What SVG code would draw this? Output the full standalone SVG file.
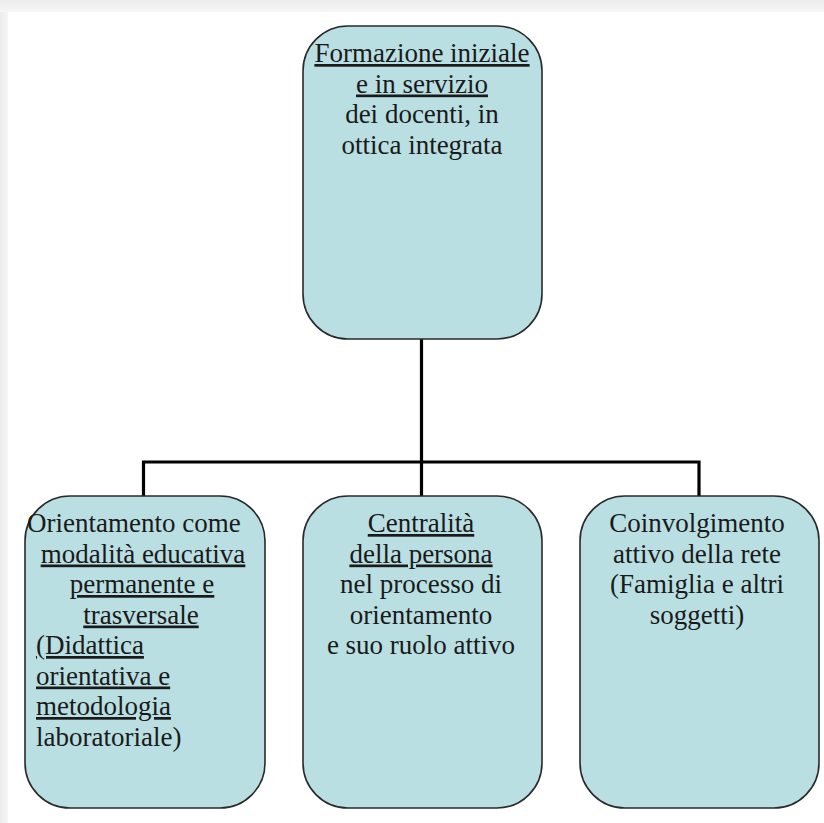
<svg xmlns="http://www.w3.org/2000/svg" width="824" height="823" viewBox="0 0 824 823">
<defs>
<linearGradient id="topShade" x1="0" y1="0" x2="0" y2="1">
<stop offset="0" stop-color="#ececec"/>
<stop offset="1" stop-color="#f6f6f6"/>
</linearGradient>
<linearGradient id="leftShade" x1="0" y1="0" x2="1" y2="0">
<stop offset="0" stop-color="#ececec"/>
<stop offset="1" stop-color="#f6f6f6"/>
</linearGradient>
</defs>
<style>
.box{fill:#b9dfe2;stroke:#2a2a2a;stroke-width:1.6}
.t{font-family:"Liberation Serif","Times New Roman",serif;font-size:27px;fill:#1a1a1a}
.c{text-anchor:middle}
.u{text-decoration:underline}
.con{stroke:#000;stroke-width:3.2;fill:none}
</style>
<rect x="0" y="0" width="824" height="823" fill="#ffffff"/>
<rect x="0" y="0" width="824" height="12" fill="url(#topShade)"/>
<rect x="0" y="12" width="8" height="811" fill="url(#leftShade)"/>
<g id="connectors">
<path class="con" d="M421.5 339 V462"/>
<path class="con" d="M143.5 496 V462 H699 V496"/>
<path class="con" d="M421.5 462 V496"/>
</g>
<g id="node-top">
<rect class="box" x="303" y="26" width="239" height="313" rx="45" ry="45"/>
<text class="t c u" x="422" y="62">Formazione iniziale</text>
<text class="t c u" x="422" y="92.5"> e in servizio</text>
<text class="t c" x="422" y="123">dei docenti, in</text>
<text class="t c" x="422" y="153.5">ottica integrata</text>
</g>
<g id="node-left">
<rect class="box" x="25" y="496" width="240" height="312" rx="45" ry="45"/>
<text class="t" x="27" y="532">Orientamento come</text>
<text class="t c u" x="143" y="562.5">modalità educativa</text>
<text class="t c u" x="142" y="593">permanente e</text>
<text class="t c u" x="141" y="623.5">trasversale</text>
<text class="t u" x="36" y="654">(Didattica</text>
<text class="t u" x="36" y="684.5">orientativa e</text>
<text class="t u" x="36" y="715">metodologia</text>
<text class="t" x="36" y="745.5">laboratoriale)</text>
</g>
<g id="node-middle">
<rect class="box" x="303" y="496" width="239" height="312" rx="45" ry="45"/>
<text class="t c u" x="421" y="532">Centralità</text>
<text class="t c u" x="421" y="562.5">della persona</text>
<text class="t c" x="421" y="593">nel processo di</text>
<text class="t c" x="421" y="623.5">orientamento</text>
<text class="t c" x="421" y="654">e suo ruolo attivo</text>
</g>
<g id="node-right">
<rect class="box" x="580" y="496" width="239" height="312" rx="45" ry="45"/>
<text class="t c" x="697" y="532">Coinvolgimento</text>
<text class="t c" x="697" y="562.5">attivo della rete</text>
<text class="t c" x="697" y="593">(Famiglia e altri</text>
<text class="t c" x="697" y="623.5">soggetti)</text>
</g>
</svg>
